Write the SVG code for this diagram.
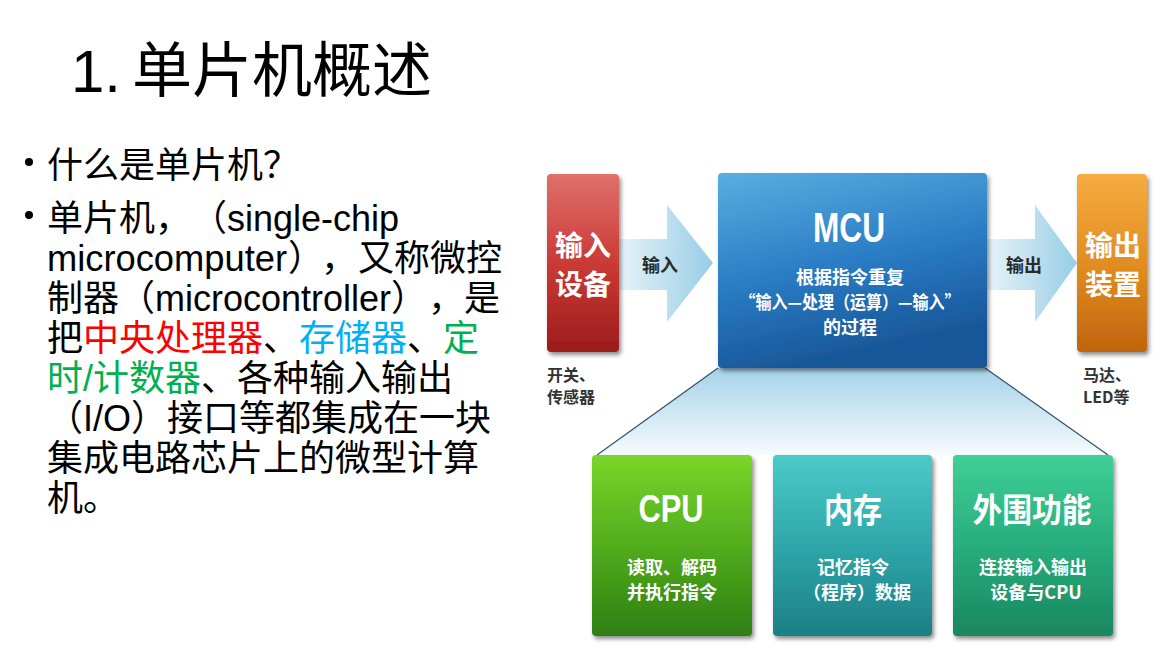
<svg xmlns="http://www.w3.org/2000/svg" width="1166" height="665" viewBox="0 0 1166 665">
<defs>
<style>
text{text-spacing-trim:space-all}
.body{font-family:"Liberation Sans","Noto Sans CJK SC",sans-serif;font-size:36px;fill:#000}
.title{font-family:"Liberation Sans","Noto Sans CJK SC",sans-serif;font-size:60px;fill:#000}
.cjkb{font-family:"Noto Sans CJK SC","Liberation Sans",sans-serif;font-weight:bold;fill:#fff;text-anchor:middle}
.latb{font-family:"Liberation Sans","Noto Sans CJK SC",sans-serif;font-weight:bold;fill:#fff;text-anchor:middle}
.sub{font-family:"Noto Sans CJK SC","Liberation Sans",sans-serif;font-weight:bold;font-size:18px;fill:#fff;text-anchor:middle}
.note{font-family:"Noto Sans CJK SC","Liberation Sans",sans-serif;font-weight:bold;font-size:16px;fill:#333}
.alab{font-family:"Noto Sans CJK SC",sans-serif;font-weight:bold;font-size:18px;fill:#2a2a2a;text-anchor:middle}
.red{fill:#ff0000}.cyan{fill:#00b0f0}.green{fill:#00b050}
.fan{stroke:#34506a;stroke-width:1.2;fill:none}
</style>
<filter id="sh" x="-10%" y="-10%" width="125%" height="125%">
<feDropShadow dx="2" dy="3" stdDeviation="2" flood-color="#000" flood-opacity="0.45"/>
</filter>
<linearGradient id="gRed" x1="0" y1="0" x2="0" y2="1">
<stop offset="0" stop-color="#e0706c"/><stop offset="0.5" stop-color="#cb3a36"/><stop offset="1" stop-color="#9c1c1c"/>
</linearGradient>
<linearGradient id="gBlue" x1="0" y1="0" x2="0.3" y2="1">
<stop offset="0" stop-color="#5aaee0"/><stop offset="0.55" stop-color="#2a7cc4"/><stop offset="1" stop-color="#185699"/>
</linearGradient>
<linearGradient id="gOrange" x1="0" y1="0" x2="0" y2="1">
<stop offset="0" stop-color="#f5ac40"/><stop offset="0.55" stop-color="#e08a1e"/><stop offset="1" stop-color="#bf650e"/>
</linearGradient>
<linearGradient id="gCpu" x1="0" y1="0" x2="0" y2="1">
<stop offset="0" stop-color="#7ad62a"/><stop offset="0.55" stop-color="#4ea81c"/><stop offset="1" stop-color="#2e7f12"/>
</linearGradient>
<linearGradient id="gMem" x1="0" y1="0" x2="0" y2="1">
<stop offset="0" stop-color="#4ccaca"/><stop offset="0.55" stop-color="#2ca3a6"/><stop offset="1" stop-color="#1c7f86"/>
</linearGradient>
<linearGradient id="gPer" x1="0" y1="0" x2="0" y2="1">
<stop offset="0" stop-color="#40cf98"/><stop offset="0.55" stop-color="#26aa7a"/><stop offset="1" stop-color="#1a8660"/>
</linearGradient>
<linearGradient id="gArrow" x1="0" y1="0" x2="1" y2="0">
<stop offset="0" stop-color="#e6f3f8"/><stop offset="1" stop-color="#98cde6"/>
</linearGradient>
<linearGradient id="gFan" x1="0" y1="0" x2="0" y2="1">
<stop offset="0" stop-color="#a6d2e8"/><stop offset="1" stop-color="#f6fbfd"/>
</linearGradient>
</defs>
<rect width="1166" height="665" fill="#fff"/>

<g id="title">
<text class="title" y="92"><tspan x="71">1.</tspan><tspan x="132">单片机概述</tspan></text>
</g>

<g id="bullets">
<circle cx="29" cy="162" r="4" fill="#000"/>
<circle cx="29" cy="215" r="4" fill="#000"/>
<text class="body" x="47" y="178">什么是单片机？</text>
<text class="body" y="231"><tspan x="47">单片机，</tspan><tspan x="191">（single-chip</tspan></text>
<text class="body" y="271"><tspan x="47" textLength="240" lengthAdjust="spacingAndGlyphs">microcomputer</tspan><tspan x="288">）</tspan><tspan x="321">，</tspan><tspan x="358">又称微控</tspan></text>
<text class="body" y="311"><tspan x="47">制器</tspan><tspan x="119">（microcontroller）</tspan><tspan x="428">，</tspan><tspan x="464">是</tspan></text>
<text class="body" x="47" y="351">把<tspan class="red">中央处理器</tspan>、<tspan class="cyan">存储器</tspan>、<tspan class="green">定</tspan></text>
<text class="body" x="47" y="391"><tspan class="green">时/计数器</tspan>、各种输入输出</text>
<text class="body" x="47" y="431">（I/O）接口等都集成在一块</text>
<text class="body" x="47" y="471">集成电路芯片上的微型计算</text>
<text class="body" x="47" y="511">机。</text>
</g>

<g id="connectors">
<path d="M718,368 L597,455 L1108,455 L985,368 Z" fill="url(#gFan)"/>
<path class="fan" d="M718,368 L597,455"/>
<path class="fan" d="M985,368 L1108,455"/>
<path d="M619,239 L667,239 L667,205 L713,263 L667,322 L667,290 L619,290 Z" fill="url(#gArrow)"/>
<path d="M987,239 L1035,239 L1035,205 L1077,263 L1035,322 L1035,290 L987,290 Z" fill="url(#gArrow)"/>
<text class="alab" x="660" y="272">输入</text>
<text class="alab" x="1024" y="272">输出</text>
</g>

<g id="input-device">
<rect x="547" y="174" width="72" height="178" rx="4" fill="url(#gRed)" filter="url(#sh)"/>
<text class="cjkb" x="583" y="256" font-size="28">输入</text>
<text class="cjkb" x="583" y="295" font-size="28">设备</text>
<text class="note" x="547" y="381">开关、</text>
<text class="note" x="547" y="403">传感器</text>
</g>

<g id="mcu">
<rect x="718" y="173" width="269" height="195" rx="4" fill="url(#gBlue)" filter="url(#sh)"/>
<text class="latb" x="849" y="242" font-size="42" textLength="72" lengthAdjust="spacingAndGlyphs">MCU</text>
<text class="sub" x="850" y="284">根据指令重复</text>
<text class="sub" x="850" y="309" textLength="221" lengthAdjust="spacingAndGlyphs">“输入—处理（运算）—输入”</text>
<text class="sub" x="850" y="334">的过程</text>
</g>

<g id="output-device">
<rect x="1077" y="174" width="70" height="178" rx="4" fill="url(#gOrange)" filter="url(#sh)"/>
<text class="cjkb" x="1113" y="256" font-size="28">输出</text>
<text class="cjkb" x="1113" y="295" font-size="28">装置</text>
<text class="note" x="1083" y="381">马达、</text>
<text class="note" x="1083" y="403">LED等</text>
</g>

<g id="cpu">
<rect x="592" y="455" width="160" height="181" rx="4" fill="url(#gCpu)" filter="url(#sh)"/>
<text class="latb" x="671" y="522" font-size="38" textLength="65" lengthAdjust="spacingAndGlyphs">CPU</text>
<text class="sub" x="672" y="574">读取、解码</text>
<text class="sub" x="672" y="599">并执行指令</text>
</g>

<g id="memory">
<rect x="773" y="455" width="159" height="181" rx="4" fill="url(#gMem)" filter="url(#sh)"/>
<text class="cjkb" x="853" y="523" font-size="34" font-weight="normal" textLength="58" lengthAdjust="spacingAndGlyphs">内存</text>
<text class="sub" x="853" y="574">记忆指令</text>
<text class="sub" x="857" y="599">（程序）数据</text>
</g>

<g id="peripheral">
<rect x="953" y="455" width="160" height="181" rx="4" fill="url(#gPer)" filter="url(#sh)"/>
<text class="cjkb" x="1032" y="522" font-size="33" font-weight="normal" textLength="119" lengthAdjust="spacingAndGlyphs">外围功能</text>
<text class="sub" x="1033" y="574">连接输入输出</text>
<text class="sub" x="1036" y="599">设备与CPU</text>
</g>
</svg>
